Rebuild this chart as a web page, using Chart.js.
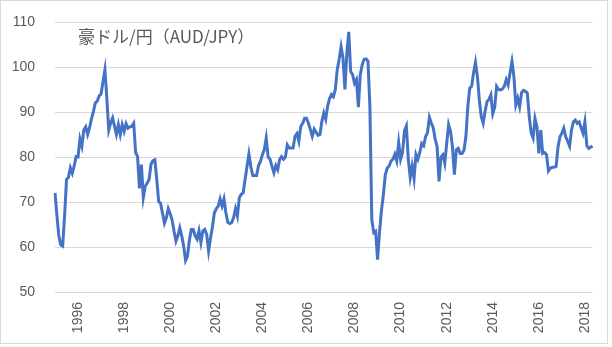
<!DOCTYPE html>
<html>
<head>
<meta charset="utf-8">
<script src="https://cdn.jsdelivr.net/npm/chart.js@4"></script>
<style>
    body { margin: 0; background: #ffffff; }
    #wrap { position: relative; width: 612px; height: 347px; }
</style>
</head>
<body>
<div id="wrap">
    <canvas id="fxChart" width="612" height="347"></canvas>
</div>
<script>

// monthly data, Jan 1995 .. May 2018
const startYear = 1995;
const startMonth = 1;

const chartTitle = "豪ドル/円（AUD/JPY）";

const tickYears = [1996, 1998, 2000, 2002, 2004, 2006, 2008, 2010, 2012, 2014, 2016, 2018];

const yTicks = [50, 60, 70, 80, 90, 100, 110];

// 1995 - 1998
const audJpy1 = [
    72, 67, 62.5, 60.5, 60.2, 67, 75, 75.5, 77.6, 76.4, 78, 80.1,
    80, 84, 82.4, 86, 86.7, 85, 86.5, 88.5, 90.1, 92, 92.4, 93.6,
    94, 96.8, 99.4, 93, 86, 87.6, 88.7, 86.8, 85, 87.2, 85, 87.2,
    85.7, 87.4, 86.4, 86.7, 86.8, 87.5, 81, 80.1, 73, 78.3, 71, 73.5
];

// 1999 - 2002
const audJpy2 = [
    74.2, 75, 78.4, 79.2, 79.4, 75, 70.1, 69.7, 67.5, 65.3, 66.5, 68.5,
    67.4, 66, 63.5, 61.3, 62.5, 64.3, 62.5, 60.2, 57, 58, 61.5, 63.9,
    63.9, 62.5, 61.7, 63.6, 61, 63.6, 63.9, 62.8, 59.1, 62, 64.5, 67.6,
    68.5, 69.1, 70.7, 69.1, 70.7, 67.6, 65.5, 65.2, 65.4, 66.5, 68.5, 66.9
];

// 2003 - 2006
const audJpy3 = [
    71, 71.7, 72, 75, 77.9, 80.7, 77.9, 75.9, 75.9, 75.9, 78.1, 79,
    80.5, 81.6, 84.2, 80, 79.5, 77.9, 76.5, 78.1, 77.2, 79.5, 80.1, 79.5,
    80, 82.7, 82, 82, 82, 84.6, 85.2, 83.5, 86.8, 87.5, 88.6, 88.6,
    87.5, 86.1, 84.6, 86.2, 85.5, 84.8, 85, 88, 89.8, 88.4, 91.3, 93
];

// 2007 - 2010
const audJpy4 = [
    93.9, 93.4, 95, 99.4, 101.7, 104.5, 102, 95, 103.1, 107.8, 99, 98.3,
    96.4, 97.2, 91.1, 98.3, 100.5, 101.7, 101.8, 101.3, 91.3, 66.1, 63.2, 63.5,
    57.2, 63.2, 68, 71.5, 76, 77.5, 78, 79.1, 79.5, 80.6, 79.1, 83.2,
    79.5, 81, 85.8, 86.9, 79.5, 75.5, 78, 75.2, 80.6, 79.5, 81, 83
];

// 2011 - 2014
const audJpy5 = [
    82.5, 84.5, 85.4, 88.8, 87.5, 86.5, 84, 82.3, 74.6, 80, 80.5, 78.6,
    83, 87.2, 85.7, 82.3, 76.1, 81.6, 81.9, 80.8, 80.8, 81.5, 84.5, 91.2,
    95.3, 95.7, 98.7, 101, 97.9, 92.7, 89, 87.5, 90.1, 92.3, 92.8, 93.8,
    89.6, 91, 95.7, 95, 94.9, 95.1, 95.7, 97.2, 96, 98.7, 101.2, 97.9
];

// 2015 - May 2018
const audJpy6 = [
    91.6, 93.1, 91.2, 94.3, 94.8, 94.6, 94.2, 89, 85.3, 84.2, 88.6, 86.8,
    80.8, 86, 80.8, 81, 80.5, 76.9, 77.5, 77.7, 77.7, 77.9, 82.3, 84.5,
    85.3, 86.4, 84.5, 83.5, 82.4, 86, 87.8, 88.2, 87.5, 87.8, 86.5, 85.3,
    87.8, 82.5, 81.9, 82.2, 82.4
];

const audJpy = [
    ...audJpy1,
    ...audJpy2,
    ...audJpy3,
    ...audJpy4,
    ...audJpy5,
    ...audJpy6
];

let monthLabels = [];

for (let i = 0; i < audJpy.length; i++) {
    let m = startMonth - 1 + i;
    let y = startYear + Math.floor(m / 12);
    let mm = (m % 12) + 1;
    monthLabels.push(y + "-" + (mm < 10 ? "0" + mm : mm));
}

const textColor = "#595959";
const gridColor = "#d9d9d9";

const overlayPlugin = {

    id: "overlay",

    afterDraw(chart) {

        const ctx = chart.ctx;

        ctx.save();

        // chart area border
        ctx.strokeStyle = "#d9d9d9";
        ctx.lineWidth = 1;
        ctx.strokeRect(0.5, 0.5, 607, 343);

        // title inside plot
        ctx.fillStyle = textColor;
        ctx.font = "17px 'Noto Sans CJK JP'";
        ctx.textBaseline = "middle";
        ctx.textAlign = "left";
        ctx.fillText(chartTitle, 78, 37);

        ctx.restore();

    }

};

function createChart() {

    const chartCanvas =
        document.getElementById("fxChart");

    new Chart(chartCanvas, {

        type: "line",

        data: {

            labels: monthLabels,

            datasets: [{
                data: audJpy,
                borderColor: "#4472c4",
                borderWidth: 3,
                pointRadius: 0,
                tension: 0,
                fill: false
            }]

        },

        options: {

            responsive: false,
            animation: false,

            layout: {
                padding: {
                    left: 0,
                    right: 19,
                    top: 22,
                    bottom: 0
                }
            },

            plugins: {
                legend: { display: false },
                tooltip: { enabled: false }
            },

            scales: {

                x: {
                    type: "category",
                    offset: false,
                    grid: { display: false, drawTicks: false },
                    border: { display: false },
                    afterFit(scale) {
                        scale.height = 55;
                    },
                    ticks: {
                        autoSkip: false,
                        minRotation: 90,
                        maxRotation: 90,
                        padding: 10,
                        color: textColor,
                        font: { family: "'Liberation Sans'", size: 14 },
                        callback: function(value) {
                            let lab = this.getLabelForValue(value);
                            let parts = lab.split("-");
                            if (parts[1] === "01" &&
                                tickYears.includes(Number(parts[0]))) {
                                return parts[0];
                            }
                            return null;
                        }
                    }
                },

                y: {
                    min: yTicks[0],
                    max: yTicks[yTicks.length - 1],
                    grid: {
                        color: gridColor,
                        lineWidth: 1,
                        drawTicks: true,
                        tickLength: 16,
                        tickColor: "rgba(0,0,0,0)"
                    },
                    border: { display: false },
                    afterFit(scale) {
                        scale.width = 55;
                    },
                    afterBuildTicks(scale) {
                        scale.ticks = yTicks.map(v => ({ value: v }));
                    },
                    ticks: {
                        padding: 4,
                        color: textColor,
                        font: { family: "'Liberation Sans'", size: 14 }
                    }
                }

            }

        },

        plugins: [overlayPlugin]

    });

}

createChart();

</script>
</body>
</html>
